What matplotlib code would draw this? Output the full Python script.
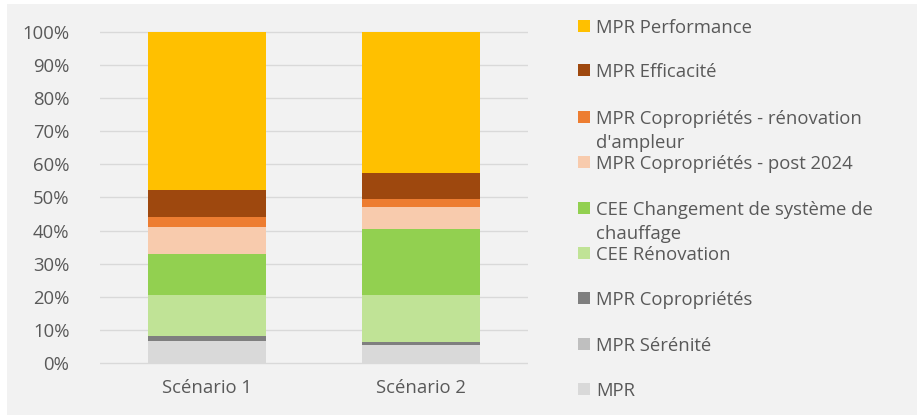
import matplotlib
matplotlib.use("Agg")
import matplotlib.pyplot as plt
from matplotlib.patches import Rectangle
import numpy as np

plt.rcParams['font.family'] = ['Open Sans', 'DejaVu Sans']

categories = ["Scénario 1", "Scénario 2"]
series_names = ["MPR", "MPR Sérénité", "MPR Copropriétés", "CEE Rénovation",
                "CEE Changement de système de\nchauffage", "MPR Copropriétés - post 2024",
                "MPR Copropriétés - rénovation\nd'ampleur", "MPR Efficacité", "MPR Performance"]
mpr = [6.7, 5.4]
mpr_serenite = [0.0, 0.0]
mpr_copro = [1.6, 1.1]
cee_renovation = [12.3, 14.1]
cee_changement = [12.4, 19.9]
mpr_copro_post2024 = [8.1, 6.7]
mpr_copro_ampleur = [3.1, 2.3]
mpr_efficacite = [8.1, 7.8]
mpr_performance = [47.7, 42.7]
tick_labels = ["0%", "10%", "20%", "30%", "40%", "50%", "60%", "70%", "80%", "90%", "100%"]

series = [mpr, mpr_serenite, mpr_copro, cee_renovation, cee_changement,
          mpr_copro_post2024, mpr_copro_ampleur, mpr_efficacite, mpr_performance]
colors = ["#D9D9D9", "#BFBFBF", "#7F7F7F", "#C0E396", "#92D050",
          "#F8CBAD", "#ED7D31", "#9E480E", "#FFC000"]

W, H = 922, 419
fs = 13.3
fig = plt.figure(figsize=(W / 100, H / 100), dpi=100)
fig.patch.set_facecolor("white")
fig.add_artist(Rectangle((7 / W, 4 / H), (W - 12) / W, (H - 8) / H, transform=fig.transFigure,
                         facecolor="#F2F2F2", edgecolor="none", zorder=0))

# axes in pixel coordinates
x0, x1 = 100, 528
y_top, y_bot = 31.7, 363.3
pad = 0.004
span = y_bot - y_top
ax = fig.add_axes([x0 / W, (H - y_bot - pad * span) / H, (x1 - x0) / W, (span * (1 + 2 * pad)) / H])
ax.set_facecolor("none")
ax.set_ylim(-pad * 100, 100 + pad * 100)
ax.set_xlim(-0.5, 1.5)

x = np.arange(len(categories))
bottom = np.zeros(len(categories))
for vals, c in zip(series, colors):
    v = np.array(vals)
    ax.bar(x, v, bottom=bottom, width=0.556, color=c, edgecolor="none", zorder=3)
    bottom += v

ax.set_yticks(np.arange(0, 101, 10))
ax.set_yticklabels(tick_labels)
ax.set_xticks(x)
ax.set_xticklabels(categories)
ax.tick_params(axis="both", length=0, labelsize=fs, labelcolor="#595959")
ax.tick_params(axis="y", pad=22)
ax.tick_params(axis="x", pad=10)
ax.grid(axis="y", color="#D9D9D9", linewidth=1.0, zorder=0)
ax.set_axisbelow(True)
for s in ax.spines.values():
    s.set_visible(False)

# legend (manual, top entry first)
leg_y = [25.7, 70.3, 116.7, 161.7, 207.7, 253.0, 298.3, 344.0, 389.0]
order = list(range(len(series_names)))[::-1]
for yy, i in zip(leg_y, order):
    fig.add_artist(Rectangle((578 / W, (H - yy - 6) / H), 12 / W, 12 / H,
                             transform=fig.transFigure, facecolor=colors[i], edgecolor="none"))
    fig.text(596 / W, (H - yy + 7) / H, series_names[i], ha="left", va="top",
             fontsize=fs, color="#595959", linespacing=1.45)

fig.savefig("out.png", dpi=100, facecolor=fig.get_facecolor())
